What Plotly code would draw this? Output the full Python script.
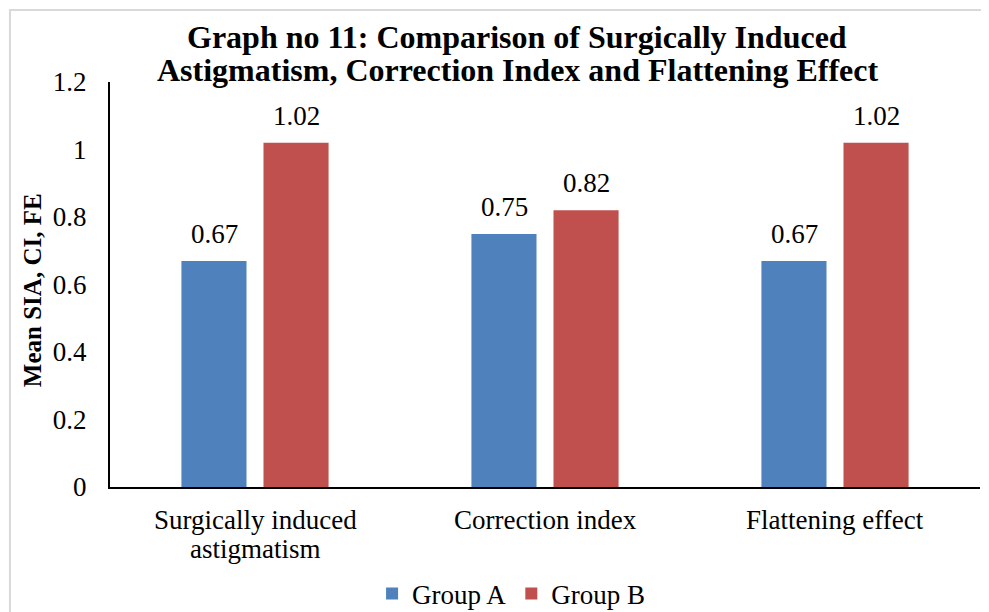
import plotly.graph_objects as go

categories = ["Surgically induced<br>astigmatism", "Correction index", "Flattening effect"]
group_a = [0.67, 0.75, 0.67]
group_b = [1.02, 0.82, 1.02]
series_names = ["Group A", "Group B"]
y_ticks = [0, 0.2, 0.4, 0.6, 0.8, 1, 1.2]
y_tick_labels = ["0", "0.2", "0.4", "0.6", "0.8", "1", "1.2"]
title_lines = ["Graph no 11: Comparison of Surgically Induced",
               "Astigmatism, Correction Index and Flattening Effect"]
y_title = "Mean SIA, CI, FE"

font_family = "Liberation Serif, Times New Roman, serif"
blue = "#4F81BD"
red = "#C0504D"

# layout (the page body adds an 8px offset)
W, H = 981, 604
L, R, T = 102, 9, 74
PH = 405
B = H - T - PH

fig = go.Figure()
for name, vals, col in [(series_names[0], group_a, blue), (series_names[1], group_b, red)]:
    fig.add_trace(go.Bar(
        x=categories, y=vals, name=name,
        marker=dict(color=col, line=dict(width=0)),
    ))

ann = []
# title lines
for i, line in enumerate(title_lines):
    ann.append(dict(text=f"<b>{line}</b>", xref="paper", yref="paper",
                    x=0.468, y=[1.111, 1.0296][i], xanchor="center", yanchor="middle",
                    showarrow=False, font=dict(size=32, family=font_family, color="black")))
# y title
ann.append(dict(text=f"<b>{y_title}</b>", xref="paper", yref="paper",
                x=-0.0897, y=0.486, xanchor="center", yanchor="middle", textangle=-90,
                showarrow=False, font=dict(size=25, family=font_family, color="black")))
# category labels
for c in categories:
    for j, part in enumerate(c.split("<br>")):
        ann.append(dict(text=part, x=c, xref="x", yref="paper",
                        y=[-0.0815, -0.153][j], xanchor="center", yanchor="middle",
                        showarrow=False, font=dict(size=27, family=font_family, color="black")))
# data labels
for vals, xs in [(group_a, -41), (group_b, 41)]:
    for c, v in zip(categories, vals):
        ann.append(dict(text=f"{v:g}", x=c, y=v, xref="x", yref="y",
                        xshift=xs, yshift=10, xanchor="center", yanchor="bottom",
                        showarrow=False, font=dict(size=27, family=font_family, color="black")))

fig.update_layout(
    width=W, height=H,
    margin=dict(l=L, r=R, t=T, b=B, autoexpand=False),
    paper_bgcolor="white", plot_bgcolor="white",
    font=dict(family=font_family, color="black"),
    barmode="group", bargap=0.434, bargroupgap=0.207,
    xaxis=dict(
        showline=True, linecolor="black", linewidth=2,
        ticks="", showticklabels=False, showgrid=False,
    ),
    yaxis=dict(
        range=[0, 1.2], tickvals=y_ticks, ticktext=y_tick_labels,
        showline=True, linecolor="black", linewidth=2,
        showgrid=False, zeroline=False, ticks="", ticklabelstandoff=16,
        tickfont=dict(size=27, family=font_family, color="black"),
    ),
    legend=dict(
        orientation="h", x=0.461, xanchor="center", y=-0.264, yanchor="middle",
        font=dict(size=27, family=font_family, color="black"),
        itemwidth=30,
    ),
    annotations=ann,
    shapes=[dict(
        type="rect", xref="paper", yref="paper",
        x0=-0.115, x1=1.03, y0=-0.35, y1=1.178,
        line=dict(color="#D9D9D9", width=2), fillcolor="rgba(0,0,0,0)", layer="below",
    )],
)

fig.write_html("out.html")
